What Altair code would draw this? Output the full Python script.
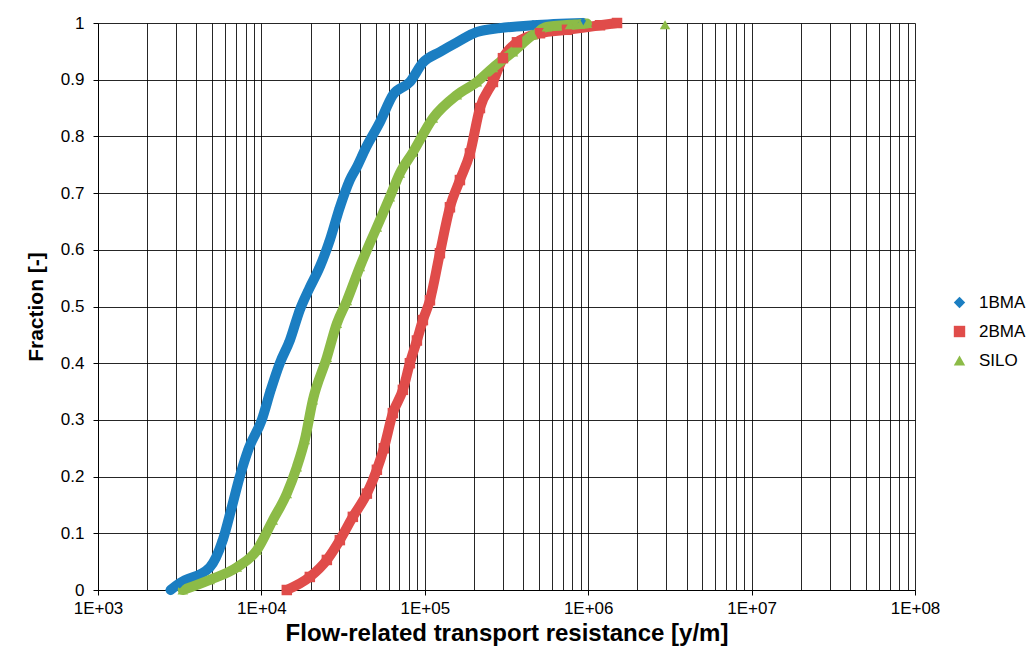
import altair as alt
import pandas as pd

series_names = ["1BMA", "2BMA", "SILO"]
series_colors = ["#1B7EC2", "#E04C4A", "#8CBB47"]
series_shapes = ["diamond", "square", "triangle-up"]

# 1BMA: transport resistance [y/m] and cumulative fraction
bma1_x = [2780, 3165, 4831, 5801, 6587, 7374, 8372, 10056, 11420, 12963, 14925,
          17184, 19513, 22787, 26236, 30213, 34780, 38400, 43590, 53090, 63770,
          81040, 97340, 123700, 157200, 208400, 288400, 459200, 929200]
bma1_f = [0.0, 0.012, 0.04, 0.088, 0.146, 0.2, 0.25, 0.3, 0.353, 0.4, 0.44,
          0.494, 0.53, 0.57, 0.617, 0.675, 0.723, 0.746, 0.78, 0.825, 0.873,
          0.896, 0.93, 0.949, 0.966, 0.984, 0.991, 0.996, 1.0]

# 2BMA
bma2_x = [14307, 19790, 25150, 30210, 36280, 44200, 50890, 56170, 63770, 73440,
          81040, 89460, 97340, 107500, 123700, 142500, 164000, 188900, 217500,
          261200, 300800, 366400, 506800, 741600, 1181000, 1501000]
bma2_f = [0.0, 0.023, 0.053, 0.088, 0.129, 0.17, 0.212, 0.25, 0.312, 0.353,
          0.4, 0.44, 0.476, 0.511, 0.594, 0.675, 0.723, 0.77, 0.85,
          0.896, 0.938, 0.966, 0.982, 0.988, 0.996, 1.0]

# SILO
silo_x = [3302, 4831, 7071, 9372, 11743, 14307, 16475, 18443, 20644, 25150,
          28960, 33340, 40050, 50890, 61140, 70400, 84560, 112100, 157200,
          208400, 261200, 346400, 459200, 559400, 644200, 773800, 890900,
          983300]
silo_f = [0.0, 0.018, 0.04, 0.07, 0.123, 0.17, 0.217, 0.265, 0.335, 0.41,
          0.47, 0.51, 0.57, 0.64, 0.693, 0.735, 0.772, 0.832, 0.873,
          0.896, 0.921, 0.949, 0.979, 0.993, 0.995, 0.997, 0.998,
          0.999]
# isolated SILO point far to the right
silo_out_x = [2953000]
silo_out_f = [0.997]

x_grid_values = [m * 10 ** e for e in range(3, 8) for m in range(1, 10)] + [10 ** 8]
y_tick_values = [0, 0.1, 0.2, 0.3, 0.4, 0.5, 0.6, 0.7, 0.8, 0.9, 1.0]

rows = []
for name, xs, fs in [("1BMA", bma1_x, bma1_f), ("2BMA", bma2_x, bma2_f), ("SILO", silo_x, silo_f)]:
    for i, (xv, fv) in enumerate(zip(xs, fs)):
        rows.append({"series": name, "x": xv, "f": fv, "i": i, "line": 1})
for xv, fv in zip(silo_out_x, silo_out_f):
    rows.append({"series": "SILO", "x": xv, "f": fv, "i": 999, "line": 0})
df = pd.DataFrame(rows)

FONT = "Liberation Sans"
is_decade = "abs(log(datum.value)/LN10 - round(log(datum.value)/LN10)) < 0.000001"

x_enc = alt.X(
    "x:Q",
    scale=alt.Scale(type="log", domain=[1e3, 1e8], nice=False),
    axis=alt.Axis(
        values=x_grid_values,
        labelExpr="(" + is_decade + ") ? '1E+0' + round(log(datum.value)/LN10) : ''",
        tickOpacity={"condition": {"test": is_decade, "value": 1}, "value": 0},
        title="Flow-related transport resistance [y/m]",
        titleFontSize=24,
        labelOverlap=False,
        labelFlush=False,
    ),
)
y_enc = alt.Y(
    "f:Q",
    scale=alt.Scale(domain=[0, 1], nice=False, zero=False),
    axis=alt.Axis(values=y_tick_values, format=".1~f", title="Fraction [-]"),
)

line_layers = []
for name, col in zip(series_names, series_colors):
    line_layers.append(
        alt.Chart(df).transform_filter(
            (alt.datum.series == name) & (alt.datum.line == 1)
        ).mark_line(strokeWidth=10, color=col, interpolate="monotone",
                    strokeCap="round", strokeJoin="round").encode(
            x=x_enc, y=y_enc, order="i:Q"
        )
    )

legend = alt.Legend(title=None, orient="none", legendX=853, legendY=271,
                    symbolSize=130, labelFontSize=17, labelFont=FONT,
                    labelColor="#000",
                    labelOffset=11, rowPadding=11, padding=0,
                    symbolStrokeWidth=0)

points = alt.Chart(df).mark_point(filled=True, size=110, opacity=1).encode(
    x=x_enc,
    y=y_enc,
    color=alt.Color("series:N", scale=alt.Scale(domain=series_names, range=series_colors),
                    legend=legend),
    shape=alt.Shape("series:N", scale=alt.Scale(domain=series_names, range=series_shapes),
                    legend=legend),
)

chart = alt.layer(*line_layers, points).properties(
    width=817,
    height=567,
    autosize=alt.AutoSizeParams(type="none"),
    padding={"left": 98, "top": 23, "right": 115, "bottom": 61},
    background="white",
).configure_view(
    stroke=None,
).configure_axis(
    labelFont=FONT,
    titleFont=FONT,
    labelFontSize=17,
    labelColor="#000",
    titleColor="#000",
    titleFontSize=21,
    titleFontWeight="bold",
    domainColor="#000",
    tickColor="#000",
    tickSize=5,
    gridColor="#000",
    gridOpacity=0.85,
    gridWidth=1,
    grid=True,
).configure_axisX(
    labelPadding=5,
    titlePadding=5,
).configure_axisY(
    labelPadding=9,
    titlePadding=14,
)

chart.save("out.html", embed_options={"renderer": "svg", "actions": False})
